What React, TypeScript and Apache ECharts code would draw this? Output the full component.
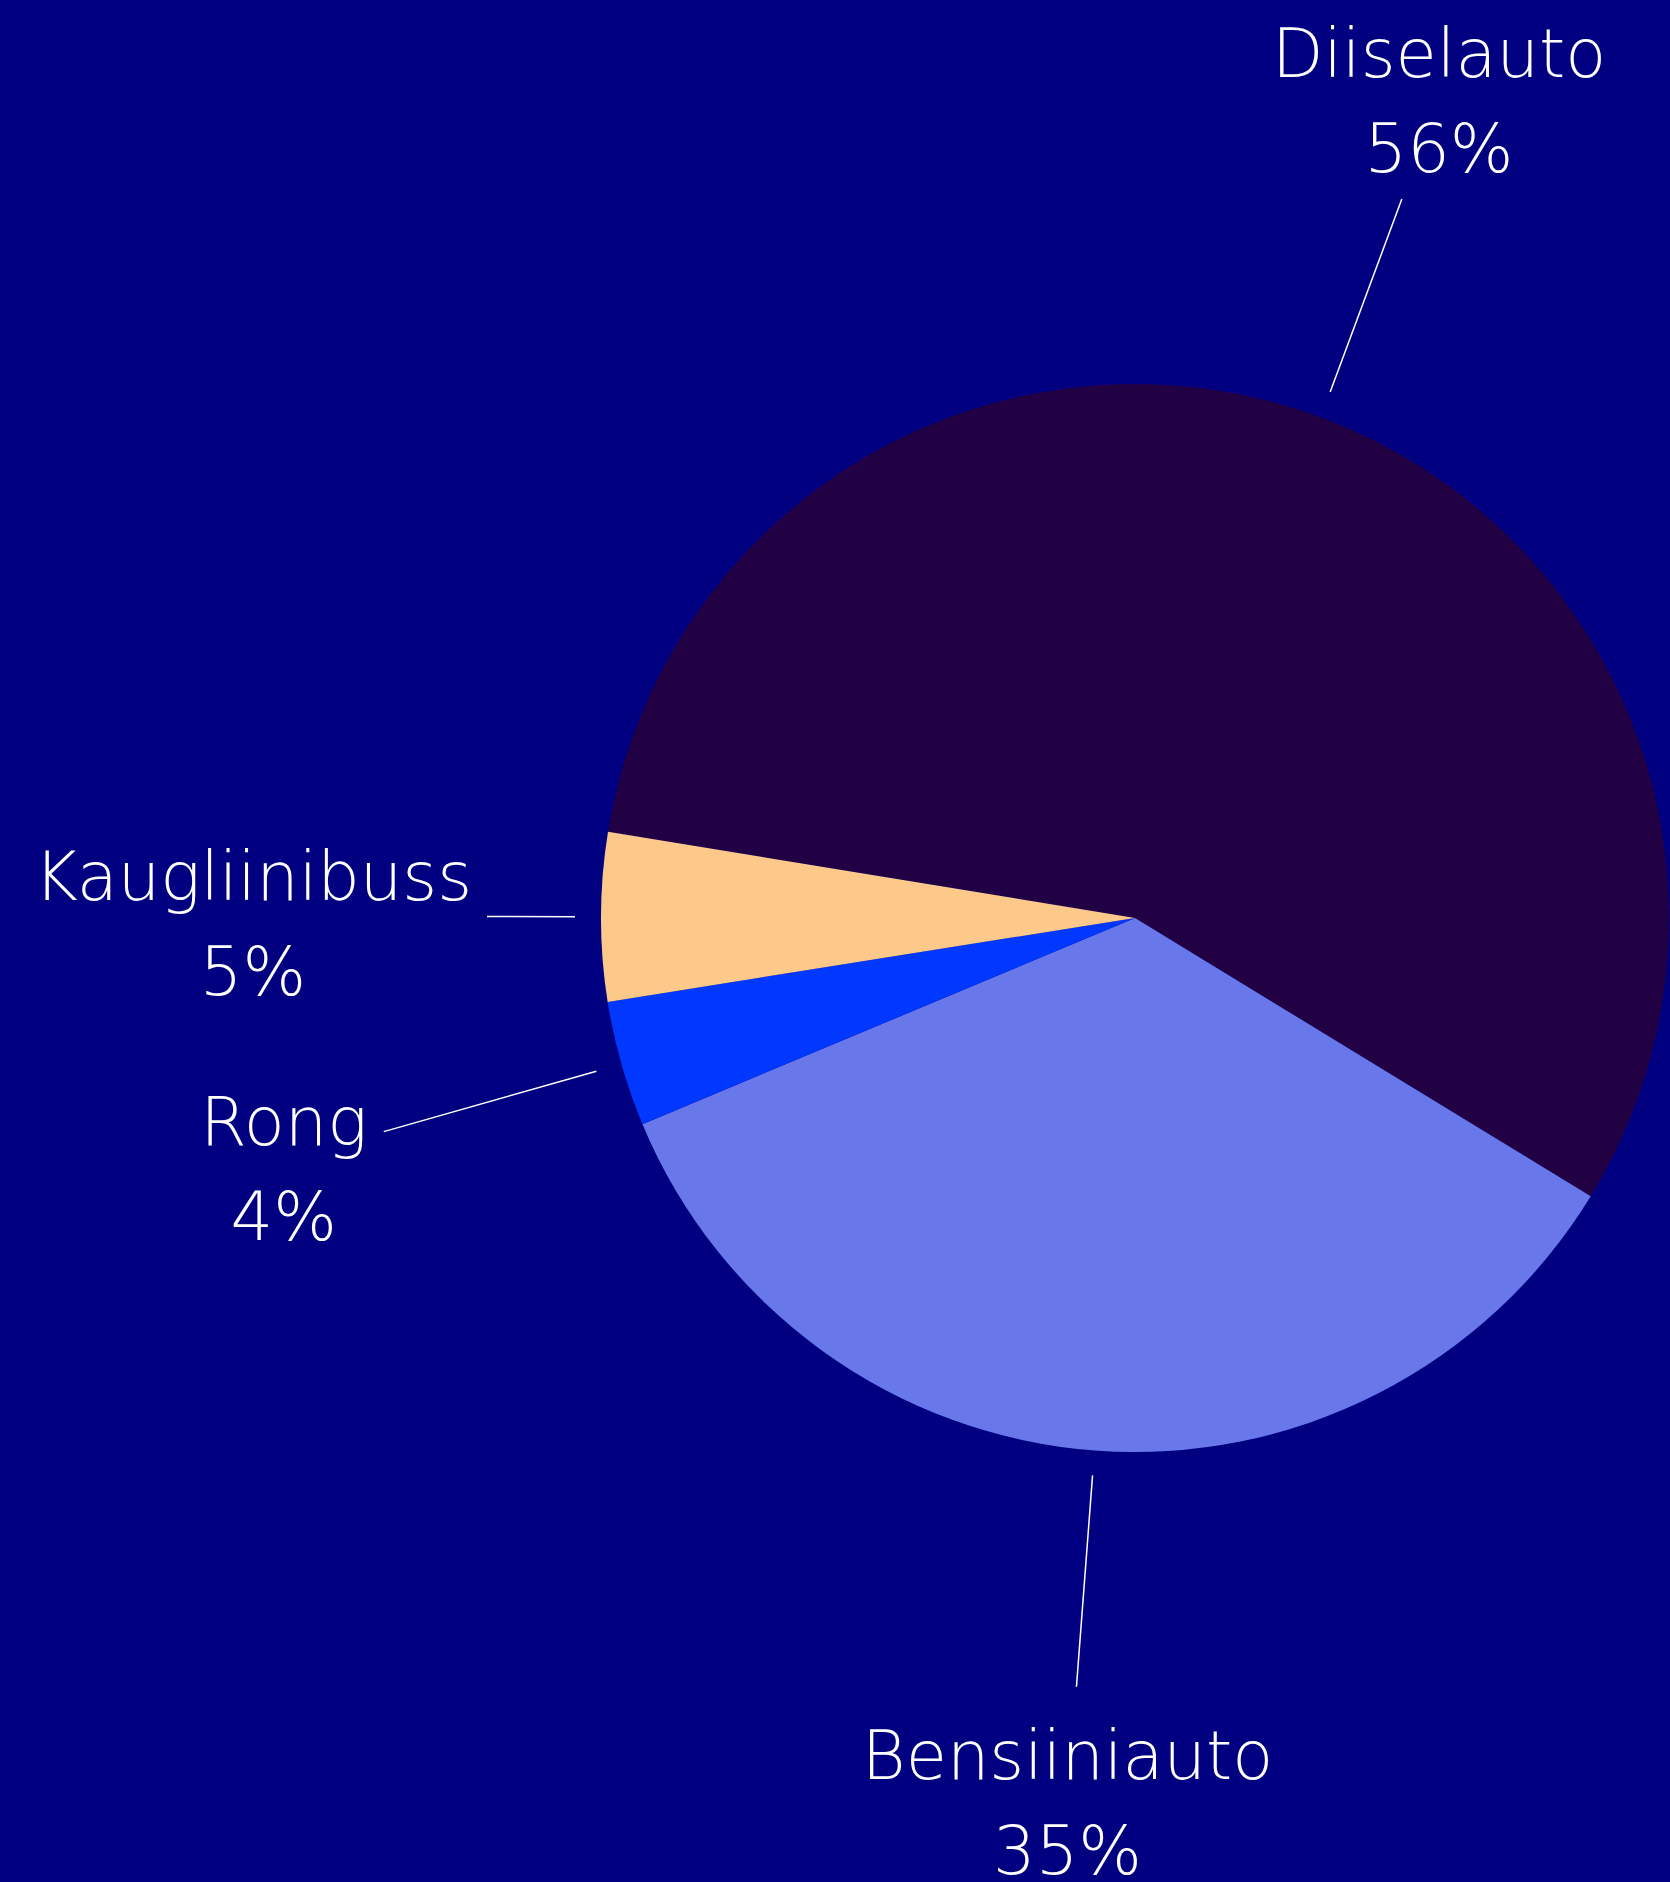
import React, { useEffect, useRef } from "react";
import * as echarts from "echarts";

// ---- data ----
const categories = ["Diiselauto", "Bensiiniauto", "Rong", "Kaugliinibuss"];
const shares = [56.2, 35.0, 3.8, 5.1];
const sliceColors = ["#220044", "#6878EA", "#0038FF", "#FCC98B"];

// ---- layout ----
const W = 1670;
const H = 1882;
const CX = 1135;
const CY = 918;
const R = 534;
// per-label leader line geometry: gap from pie edge, line length, label-centre offset beyond line end, vertical nudge
const leaderGeom = [
  { gap: 27, len: 206, offset: 107, dy: 3 },
  { gap: 25, len: 212, offset: 117, dy: 0 },
  { gap: 26, len: 221, offset: 104, dy: 9 },
  { gap: 26, len: 88, offset: 234, dy: 8 },
];

export default function App() {
  const ref = useRef<HTMLDivElement>(null);
  useEffect(() => {
    if (!ref.current) return;
    const chart = echarts.init(ref.current, null, { renderer: "svg" });
    chart.setOption({
      animation: false,
      backgroundColor: "#000080",
      series: [
        {
          type: "pie",
          center: [CX, CY],
          radius: R,
          startAngle: 170.7,
          clockwise: true,
          avoidLabelOverlap: false,
          data: categories.map((name, i) => ({
            name,
            value: shares[i],
            itemStyle: { color: sliceColors[i] },
          })),
          label: {
            show: true,
            position: "outside",
            overflow: "none",
            color: "#ffffff",
            fontFamily: "DejaVu Sans",
            fontWeight: 200,
            fontSize: 67,
            lineHeight: 95,
            align: "center",
            formatter: (p: any) => `${p.name}\n${Math.round(p.percent)}%`,
          },
          labelLine: {
            show: true,
            length: 10,
            length2: 0,
            smooth: false,
            lineStyle: { color: "#ffffff", width: 1.5 },
          },
          labelLayout: (params: any) => {
            const pts = params.labelLinePoints;
            const g = leaderGeom[params.dataIndex];
            if (!pts || !g) return {};
            const dx0 = pts[0][0] - CX;
            const dy0 = pts[0][1] - CY;
            const d = Math.sqrt(dx0 * dx0 + dy0 * dy0) || 1;
            const ux = dx0 / d;
            const uy = dy0 / d;
            const r1 = R + g.gap;
            const r2 = r1 + g.len;
            const x1 = CX + ux * r1;
            const y1 = CY + uy * r1;
            const x2 = CX + ux * r2;
            const y2 = CY + uy * r2;
            return {
              x: x2 + ux * g.offset,
              y: y2 + uy * g.offset + g.dy,
              align: "center",
              verticalAlign: "middle",
              labelLinePoints: [
                [x1, y1],
                [x2, y2],
              ],
            };
          },
          emphasis: { disabled: true },
        },
      ],
    });
    return () => chart.dispose();
  }, []);
  return (
    <div
      ref={ref}
      style={{ position: "absolute", left: 0, top: 0, width: W, height: H, background: "#000080" }}
    />
  );
}
